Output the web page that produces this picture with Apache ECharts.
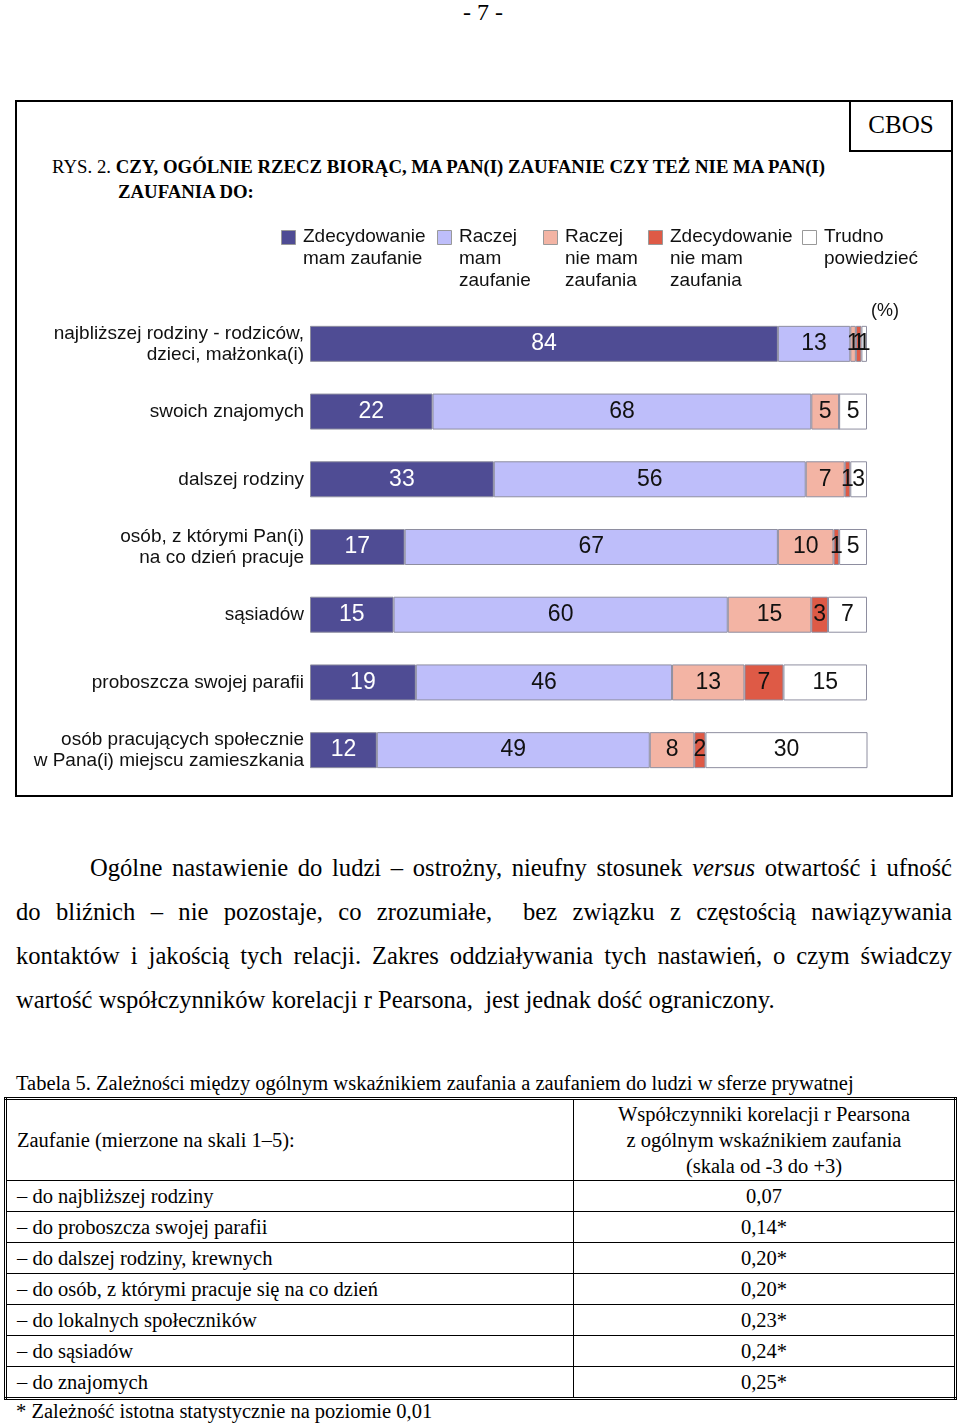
<!DOCTYPE html>
<html>
<head>
<meta charset="utf-8">
<script src="https://cdn.jsdelivr.net/npm/echarts@6/dist/echarts.min.js"></script>
<style>
  html, body { margin: 0; padding: 0; background: #fff; }
  #page { position: relative; width: 960px; height: 1424px; overflow: hidden; font-family: "Liberation Serif", "Times New Roman", serif; color: #000; }
  .abs { position: absolute; }
  #pnum { left: 0; width: 966px; top: 0; text-align: center; font-size: 24px; line-height: 24px; }
  #frame { left: 15px; top: 100px; width: 934px; height: 693px; border: 2px solid #000; }
  #cbos { left: 849px; top: 100px; width: 100px; height: 50px; border-left: 2px solid #000; border-bottom: 2px solid #000; font-size: 25px; line-height: 50px; text-align: center; }
  #title { left: 52px; top: 154px; font-size: 18.8px; line-height: 25px; white-space: nowrap; }
  #title b { font-weight: bold; }
  #chart { left: 0; top: 0; width: 960px; height: 800px; }
  #para { left: 16px; top: 846px; width: 936px; font-size: 24.6px; line-height: 44px; }
  #para span { display: block; text-align: justify; text-align-last: justify; white-space: nowrap; }
  #para span.first { padding-left: 74px; }
  #para span.last { text-align-last: left; }
  #tcap { left: 16px; top: 1071px; font-size: 20.5px; line-height: 24px; white-space: nowrap; }
  #tbl { left: 4px; top: 1097px; width: 953px; height: 301px; border: 3px double #000; border-collapse: collapse; font-size: 20.5px; }
  #tbl td { border: 1px solid #000; padding: 0; white-space: nowrap; }
  #tbl td.l { padding-left: 10px; text-align: left; }
  #tbl td.r { text-align: center; }
  #tbl tr.hd td { height: 80px; line-height: 26px; }
  #tbl tr.rw td { height: 30px; line-height: 30px; }
  #foot { left: 16px; top: 1399px; font-size: 20.5px; line-height: 24px; white-space: nowrap; }
</style>
</head>
<body>
<div id="page">
  <div id="pnum" class="abs">- 7 -</div>
  <div id="frame" class="abs"></div>
  <div id="cbos" class="abs">CBOS</div>
  <div id="title" class="abs">RYS. 2. <b>CZY, OGÓLNIE RZECZ BIORĄC, MA PAN(I) ZAUFANIE CZY TEŻ NIE MA PAN(I)</b><br><span style="padding-left:66px"><b>ZAUFANIA DO:</b></span></div>
  <div id="chart" class="abs"></div>
  <div id="para" class="abs">
    <span class="first">Ogólne nastawienie do ludzi – ostrożny, nieufny stosunek <i>versus</i> otwartość i ufność</span>
    <span>do bliźnich – nie pozostaje, co zrozumiałe,&nbsp; bez związku z częstością nawiązywania</span>
    <span>kontaktów i jakością tych relacji. Zakres oddziaływania tych nastawień, o czym świadczy</span>
    <span class="last">wartość współczynników korelacji r Pearsona,&nbsp; jest jednak dość ograniczony.</span>
  </div>
  <div id="tcap" class="abs">Tabela 5. Zależności między ogólnym wskaźnikiem zaufania a zaufaniem do ludzi w sferze prywatnej</div>
  <table id="tbl" class="abs">
    <tbody id="tbody">
      <tr class="hd"><td class="l" style="width:556px">Zaufanie (mierzone na skali 1–5):</td><td class="r">Współczynniki korelacji r Pearsona<br>z ogólnym wskaźnikiem zaufania<br>(skala od -3 do +3)</td></tr>
    </tbody>
  </table>
  <div id="foot" class="abs">* Zależność istotna statystycznie na poziomie 0,01</div>
</div>
<script>
// ---- chart data ----
var categories = [
  'najbliższej rodziny - rodziców,\ndzieci, małżonka(i)',
  'swoich znajomych',
  'dalszej rodziny',
  'osób, z którymi Pan(i)\nna co dzień pracuje',
  'sąsiadów',
  'proboszcza swojej parafii',
  'osób pracujących społecznie\nw Pana(i) miejscu zamieszkania'
];
var seriesNames = ['Zdecydowanie\nmam zaufanie', 'Raczej\nmam\nzaufanie', 'Raczej\nnie mam\nzaufania', 'Zdecydowanie\nnie mam\nzaufania', 'Trudno\npowiedzieć'];
var zdecydowanieMam   = [84, 22, 33, 17, 15, 19, 12];
var raczejMam         = [13, 68, 56, 67, 60, 46, 49];
var raczejNieMam      = [1, 5, 7, 10, 15, 13, 8];
var zdecydowanieNie   = [1, 0, 1, 1, 3, 7, 2];
var trudnoPowiedziec  = [1, 5, 3, 5, 7, 15, 30];
// ---- table data ----
var tableRows = [
  '– do najbliższej rodziny',
  '– do proboszcza swojej parafii',
  '– do dalszej rodziny, krewnych',
  '– do osób, z którymi pracuje się na co dzień',
  '– do lokalnych społeczników',
  '– do sąsiadów',
  '– do znajomych'
];
var tableValues = ['0,07', '0,14*', '0,20*', '0,20*', '0,23*', '0,24*', '0,25*'];

var tb = document.getElementById('tbody');
tableRows.forEach(function (t, i) {
  var tr = document.createElement('tr');
  tr.className = 'rw';
  var a = document.createElement('td'); a.className = 'l'; a.textContent = t;
  var b = document.createElement('td'); b.className = 'r'; b.textContent = tableValues[i];
  tr.appendChild(a); tr.appendChild(b); tb.appendChild(tr);
});

var colors = ['#4F4C94', '#BEBEFA', '#F3B4A4', '#DE5A46', '#FFFFFF'];
var values = [zdecydowanieMam, raczejMam, raczejNieMam, zdecydowanieNie, trudnoPowiedziec];
var labelColors = ['#FFFFFF', '#111111', '#111111', '#111111', '#111111'];
var sans = 'Liberation Sans, Arial, sans-serif';

var chart = echarts.init(document.getElementById('chart'), null, { renderer: 'canvas' });

var legendX = [281, 437, 543, 648, 802];
var graphics = [];
seriesNames.forEach(function (n, i) {
  graphics.push({
    type: 'rect', left: legendX[i], top: 230,
    shape: { width: 14, height: 14 },
    style: { fill: colors[i], stroke: '#999999', lineWidth: 1 }
  });
  graphics.push({
    type: 'text', left: legendX[i] + 22, top: 226,
    style: { text: n, fontFamily: sans, fontSize: 19, lineHeight: 22, fill: '#111' }
  });
});
graphics.push({
  type: 'text', left: 871, top: 302,
  style: { text: '(%)', fontFamily: sans, fontSize: 18, fill: '#111' }
});

var series = values.map(function (arr, i) {
  return {
    name: seriesNames[i],
    type: 'bar',
    stack: 'total',
    barWidth: 36,
    data: arr,
    itemStyle: { color: colors[i], borderColor: '#8E8EA0', borderWidth: 1 },
    label: {
      show: true, position: 'inside',
      fontFamily: sans, fontSize: 23,
      color: labelColors[i],
      formatter: function (p) { return p.value ? String(p.value) : ''; }
    }
  };
});

chart.setOption({
  animation: false,
  backgroundColor: 'transparent',
  grid: { left: 310, right: 93, top: 310, bottom: 16, containLabel: false },
  xAxis: { type: 'value', min: 0, max: 100, show: false },
  yAxis: {
    type: 'category', data: categories, inverse: true,
    axisLine: { show: false }, axisTick: { show: false },
    axisLabel: { margin: 6, fontFamily: sans, fontSize: 19, lineHeight: 21, color: '#111', align: 'right', padding: [4, 0, 0, 0] }
  },
  graphic: graphics,
  series: series
});
</script>
</body>
</html>
